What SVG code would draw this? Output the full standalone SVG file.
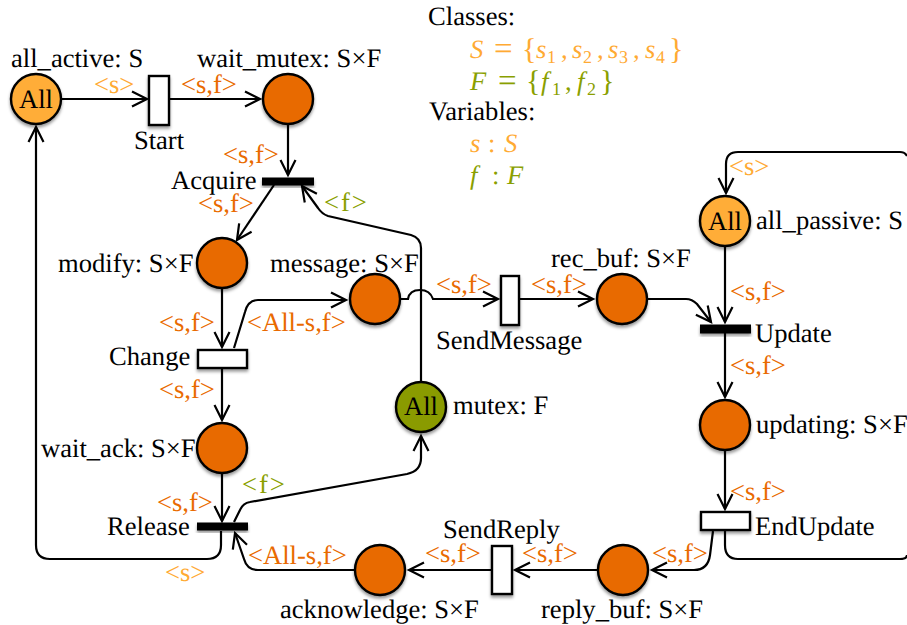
<svg xmlns="http://www.w3.org/2000/svg" width="907" height="625" viewBox="0 0 907 625">
<defs>
<filter id="sh" x="-30%" y="-30%" width="160%" height="170%"><feDropShadow dx="0" dy="2.5" stdDeviation="1.8" flood-color="#000" flood-opacity="0.4"/></filter>
<marker id="arr" markerUnits="userSpaceOnUse" markerWidth="20" markerHeight="20" refX="17" refY="10" orient="auto" overflow="visible"><path d="M2,2.500 L17,10 L2,17.500" fill="none" stroke="#000" stroke-width="2.2"/></marker>
</defs>
<style>
text{font-family:"Liberation Serif","Times New Roman",serif;font-size:26.6px;fill:#000;text-rendering:geometricPrecision}
.a{fill:#e96a00}
.y{fill:#ffaa33}
.g{fill:#8a9f00}
.f{letter-spacing:2px}
.m{font-style:italic}
.sub{font-size:18px;font-style:normal}
.br{font-size:30px}
.eq{font-size:33px}
.p{stroke:#000;stroke-width:2.4}
.o{fill:#e86a00}.l{fill:#ffad39}.v{fill:#8a9b00}
.t{fill:#fff;stroke:#000;stroke-width:2.4}
.b{fill:#000;stroke:#000;stroke-width:1}
.c{fill:none;stroke:#000;stroke-width:2.2}
.c2{fill:none;stroke:#000;stroke-width:2.2;marker-end:url(#arr)}
</style>
<g id="connectors">
<path class="c2" d="M61,99 H147"/>
<path class="c2" d="M169,99 H260"/>
<path class="c2" d="M288,124 V175"/>
<path class="c2" d="M274,185 L237,240"/>
<path class="c2" d="M421,381 V248 Q421,238 411,235 L328,216 Q322,214 318,208 L302,186"/>
<path class="c2" d="M222,288 V347"/>
<path class="c2" d="M234,348 L245,312 Q248,300 258,300 H346"/>
<path class="c2" d="M222,368 V420"/>
<path class="c2" d="M222,473 V521"/>
<path class="c2" d="M400,299 H408 C409,293 413,290 420,290 C427,290 431,293 433,299 H498"/>
<path class="c2" d="M519,299 H593"/>
<path class="c2" d="M647,299 H686 Q692,299 697,304 L711,322"/>
<path class="c2" d="M725,246 V322"/>
<path class="c2" d="M725,333 V397"/>
<path class="c2" d="M725,450 V509"/>
<path class="c2" d="M713,531 L710,555 Q708,570 694,570 H652"/>
<path class="c" d="M725,530 V545 Q725,559 738,559 H900 Q907,559 907,555"/>
<path class="c2" d="M907,156 Q905,152 900,152 H738 Q726,152 726,164 V193"/>
<path class="c2" d="M597,570 H515"/>
<path class="c2" d="M492,570 H409"/>
<path class="c2" d="M355,570 H258 Q247,570 244,559 L235,533"/>
<path class="c2" d="M221,531 V545 Q221,559 207,559 H50 Q36,559 36,545 V127"/>
<path class="c2" d="M234,522 L240,510 Q243,503 250,502 L407,474 Q421,471 421,458 V436"/>
</g>
<g id="all_active"><circle class="p l" cx="36" cy="99" r="25" filter="url(#sh)"/><text x="36" y="108" text-anchor="middle">All</text><text x="11" y="67">all_active: S</text></g>
<g id="Start"><rect class="t" x="149" y="76" width="20" height="49" filter="url(#sh)"/><text x="159" y="149" text-anchor="middle">Start</text></g>
<g id="wait_mutex"><circle class="p o" cx="288" cy="99" r="25" filter="url(#sh)"/><text x="197" y="67">wait_mutex: S×F</text></g>
<g id="Acquire"><rect class="b" x="262.500" y="178" width="51" height="7" filter="url(#sh)"/><text x="171" y="189">Acquire</text></g>
<g id="modify"><circle class="p o" cx="222" cy="263" r="25" filter="url(#sh)"/><text x="58" y="272">modify: S×F</text></g>
<g id="message"><circle class="p o" cx="375" cy="299" r="25" filter="url(#sh)"/><text x="270" y="272">message: S×F</text></g>
<g id="Change"><rect class="t" x="198" y="350" width="49" height="18" filter="url(#sh)"/><text x="109" y="365">Change</text></g>
<g id="wait_ack"><circle class="p o" cx="222" cy="448" r="25" filter="url(#sh)"/><text x="41" y="457">wait_ack: S×F</text></g>
<g id="Release"><rect class="b" x="197.500" y="523" width="50" height="7" filter="url(#sh)"/><text x="107" y="535">Release</text></g>
<g id="mutex"><circle class="p v" cx="421" cy="407" r="25" filter="url(#sh)"/><text x="421" y="415" text-anchor="middle">All</text><text x="453" y="414">mutex: F</text></g>
<g id="SendMessage"><rect class="t" x="501" y="276" width="18" height="49" filter="url(#sh)"/><text x="436" y="349">SendMessage</text></g>
<g id="rec_buf"><circle class="p o" cx="622" cy="299" r="25" filter="url(#sh)"/><text x="551" y="267">rec_buf: S×F</text></g>
<g id="all_passive"><circle class="p l" cx="725" cy="221" r="25" filter="url(#sh)"/><text x="725" y="230" text-anchor="middle">All</text><text x="756" y="229">all_passive: S</text></g>
<g id="Update"><rect class="b" x="700.500" y="325" width="50" height="8" filter="url(#sh)"/><text x="755" y="342">Update</text></g>
<g id="updating"><circle class="p o" cx="725" cy="425" r="25" filter="url(#sh)"/><text x="756" y="433">updating: S×F</text></g>
<g id="EndUpdate"><rect class="t" x="701" y="512" width="49" height="18" filter="url(#sh)"/><text x="755" y="535">EndUpdate</text></g>
<g id="reply_buf"><circle class="p o" cx="623" cy="570" r="25" filter="url(#sh)"/><text x="541" y="618">reply_buf: S×F</text></g>
<g id="SendReply"><rect class="t" x="492" y="546" width="20" height="48" filter="url(#sh)"/><text x="443" y="538">SendReply</text></g>
<g id="acknowledge"><circle class="p o" cx="380" cy="570" r="25" filter="url(#sh)"/><text x="280" y="618">acknowledge: S×F</text></g>
<g id="arc-labels">
<text class="y" x="94" y="93">&lt;s&gt;</text>
<text class="a" x="181" y="93">&lt;s,f&gt;</text>
<text class="a" x="223" y="163">&lt;s,f&gt;</text>
<text class="a" x="198" y="212">&lt;s,f&gt;</text>
<text class="g f" x="324" y="211">&lt;f&gt;</text>
<text class="a" x="159" y="331">&lt;s,f&gt;</text>
<text class="a" x="247" y="331">&lt;All-s,f&gt;</text>
<text class="a" x="436" y="293">&lt;s,f&gt;</text>
<text class="a" x="531" y="293">&lt;s,f&gt;</text>
<text class="y" x="729" y="175">&lt;s&gt;</text>
<text class="a" x="730" y="300">&lt;s,f&gt;</text>
<text class="a" x="730" y="374">&lt;s,f&gt;</text>
<text class="a" x="730" y="500">&lt;s,f&gt;</text>
<text class="a" x="159" y="398">&lt;s,f&gt;</text>
<text class="a" x="157" y="511">&lt;s,f&gt;</text>
<text class="g f" x="242" y="493">&lt;f&gt;</text>
<text class="a" x="248" y="564">&lt;All-s,f&gt;</text>
<text class="y" x="165" y="581">&lt;s&gt;</text>
<text class="a" x="425" y="562">&lt;s,f&gt;</text>
<text class="a" x="522" y="562">&lt;s,f&gt;</text>
<text class="a" x="652" y="562">&lt;s,f&gt;</text>
</g>
<g id="legend">
<text x="428" y="25">Classes:</text>
<text class="y" y="58"><tspan class="m" x="470">S</tspan><tspan class="eq" x="494" y="59">=</tspan><tspan class="br" x="522" y="59">{</tspan><tspan class="m" x="536" y="58">s</tspan><tspan class="sub" x="547" y="63">1</tspan><tspan x="561" y="58">,</tspan><tspan class="m" x="572">s</tspan><tspan class="sub" x="583" y="63">2</tspan><tspan x="597" y="58">,</tspan><tspan class="m" x="608">s</tspan><tspan class="sub" x="619" y="63">3</tspan><tspan x="633" y="58">,</tspan><tspan class="m" x="645">s</tspan><tspan class="sub" x="656" y="63">4</tspan><tspan class="br" x="669" y="59">}</tspan></text>
<text class="g" y="90"><tspan class="m" x="470">F</tspan><tspan class="eq" x="498" y="91">=</tspan><tspan class="br" x="526" y="91">{</tspan><tspan class="m" x="541" y="90">f</tspan><tspan class="sub" x="552" y="95">1</tspan><tspan x="565" y="90">,</tspan><tspan class="m" x="577">f</tspan><tspan class="sub" x="587" y="95">2</tspan><tspan class="br" x="600" y="91">}</tspan></text>
<text x="429" y="120">Variables:</text>
<text class="y" y="152"><tspan class="m" x="470">s</tspan><tspan x="488">:</tspan><tspan class="m" x="504">S</tspan></text>
<text class="g" y="184"><tspan class="m" x="470">f</tspan><tspan x="492">:</tspan><tspan class="m" x="507">F</tspan></text>
</g>
</svg>
